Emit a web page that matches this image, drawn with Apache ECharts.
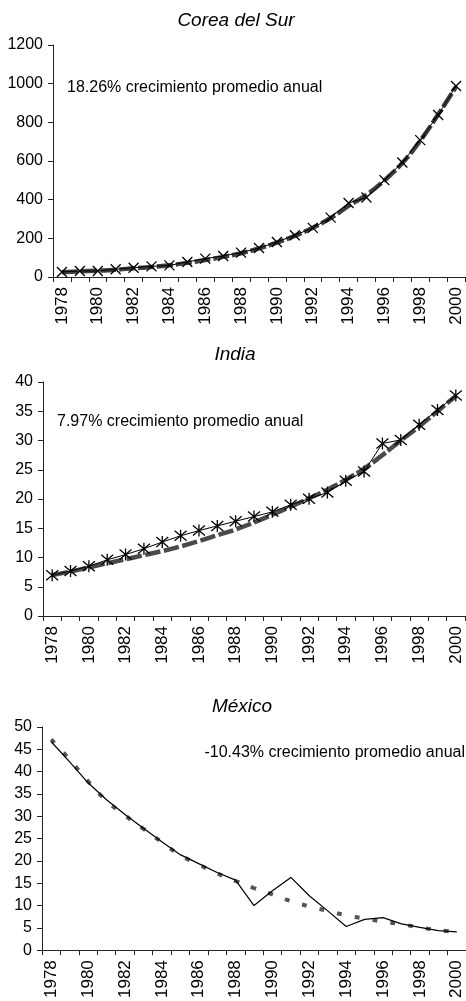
<!DOCTYPE html>
<html><head><meta charset="utf-8">
<script src="https://cdn.jsdelivr.net/npm/echarts@6/dist/echarts.min.js"></script>
<style>html,body{margin:0;padding:0;background:#fff}#c{width:466px;height:1001px}</style>
</head><body><div id="c"></div>
<script>
const years = ['1978','1979','1980','1981','1982','1983','1984','1985','1986','1987','1988','1989','1990','1991','1992','1993','1994','1995','1996','1997','1998','1999','2000'];
const koreaValues = [26,31,31,40,48,55,60,78,95,109,126,150,181,216,254,307,383,411,501,592,708,838,988];
const koreaTrend  = [24,29,33,38,45,52,61,73,88,104,123,148,178,213,255,305,368,425,500,590,705,840,985];
const indiaValues = [6.95,7.7,8.5,9.6,10.5,11.5,12.65,13.7,14.6,15.4,16.2,17.0,17.8,19.0,20.05,21.1,23.1,24.7,29.5,30.1,32.7,35.2,37.7];
const indiaTrend  = [7.0,7.6,8.3,9.0,9.7,10.4,11.1,11.9,12.8,13.8,14.8,16.0,17.3,18.7,20.1,21.6,23.3,25.2,27.5,30.0,32.4,35.0,37.6];
const mexicoValues = [46.7,42.2,37.5,33.7,30.4,27.3,24.3,21.4,19.4,17.4,15.7,10.0,13.3,16.3,12.2,8.8,5.3,6.9,7.3,5.9,5.1,4.4,4.1];
const mexicoTrend  = [47.2,42.7,37.8,33.5,30.2,27.2,24.2,21.3,19.2,17.2,15.5,13.9,12.5,11.0,9.8,8.8,7.8,7.1,6.4,5.8,5.1,4.5,4.1];
const titles = ['Corea del Sur','India','México'];
const notes = ['18.26% crecimiento promedio anual','7.97% crecimiento promedio anual','-10.43% crecimiento promedio anual'];
const yMax = [1200, 40, 50];
const yStep = [200, 5, 5];

const FONT = '"Liberation Sans", Arial, sans-serif';
const AX = '#222';
const grids = [
  {left:53, top:45, width:412, height:232},
  {left:43, top:382, width:422, height:234},
  {left:42, top:727, width:426, height:227}
];
function xAxis(i){return {type:'category',gridIndex:i,data:years,boundaryGap:true,
  axisLine:{show:true,lineStyle:{color:AX,width:1}},
  axisTick:{show:true,interval:0,length:5,lineStyle:{color:AX}},
  axisLabel:{interval:1,rotate:90,margin:10,color:'#000',fontSize:17,fontFamily:FONT}};}
function yAxis(i){return {type:'value',gridIndex:i,min:0,max:yMax[i],interval:yStep[i],
  axisLine:{show:true,lineStyle:{color:AX,width:1}},
  axisTick:{show:true,length:5,lineStyle:{color:AX}},
  splitLine:{show:false},
  axisLabel:{margin:10,color:'#000',fontSize:16,fontFamily:FONT,formatter:v=>String(v)}};}
const xSym = 'path://M0,0L10,10M10,0L0,10';
const starSym = 'path://M0,0L10,10M10,0L0,10M5,-1L5,11';
const series = [
  {type:'line',xAxisIndex:0,yAxisIndex:0,data:koreaTrend,symbol:'none',smooth:true,z:2,
   lineStyle:{color:'#404040',width:4.5,type:[16,3]}},
  {type:'line',xAxisIndex:0,yAxisIndex:0,data:koreaValues,symbol:xSym,symbolSize:10,z:3,
   lineStyle:{color:'#000',width:1},itemStyle:{color:'none',borderColor:'#000',borderWidth:1.3}},
  {type:'line',xAxisIndex:1,yAxisIndex:1,data:indiaTrend,symbol:'none',smooth:true,z:2,
   lineStyle:{color:'#4a4a4a',width:4.5,type:[16,3]}},
  {type:'line',xAxisIndex:1,yAxisIndex:1,data:indiaValues,symbol:starSym,symbolSize:12,z:3,
   lineStyle:{color:'#000',width:1},itemStyle:{color:'none',borderColor:'#000',borderWidth:1.3}},
  {type:'line',xAxisIndex:2,yAxisIndex:2,data:mexicoTrend,symbol:'none',smooth:true,z:2,
   lineStyle:{color:'#555',width:4,type:[5,13]}},
  {type:'line',xAxisIndex:2,yAxisIndex:2,data:mexicoValues,symbol:'none',z:3,
   lineStyle:{color:'#000',width:1.2}}
];
const titlePos = [[236,21],[235,355],[242,707]];
const notePos = [[67,88,'left'],[57,422,'left'],[465,753,'right']];
const graphic = [];
titles.forEach((t,i)=>graphic.push({type:'text',x:titlePos[i][0],y:titlePos[i][1],
  style:{text:t,font:'italic 19px '+FONT,fill:'#000',align:'center',verticalAlign:'middle'}}));
notes.forEach((t,i)=>graphic.push({type:'text',x:notePos[i][0],y:notePos[i][1],
  style:{text:t,font:'16px '+FONT,fill:'#000',align:notePos[i][2],verticalAlign:'middle'}}));
const chart = echarts.init(document.getElementById('c'),null,{renderer:'canvas'});
chart.setOption({animation:false,backgroundColor:'#fff',grid:grids,
  xAxis:[xAxis(0),xAxis(1),xAxis(2)],yAxis:[yAxis(0),yAxis(1),yAxis(2)],series,graphic});
</script></body></html>
